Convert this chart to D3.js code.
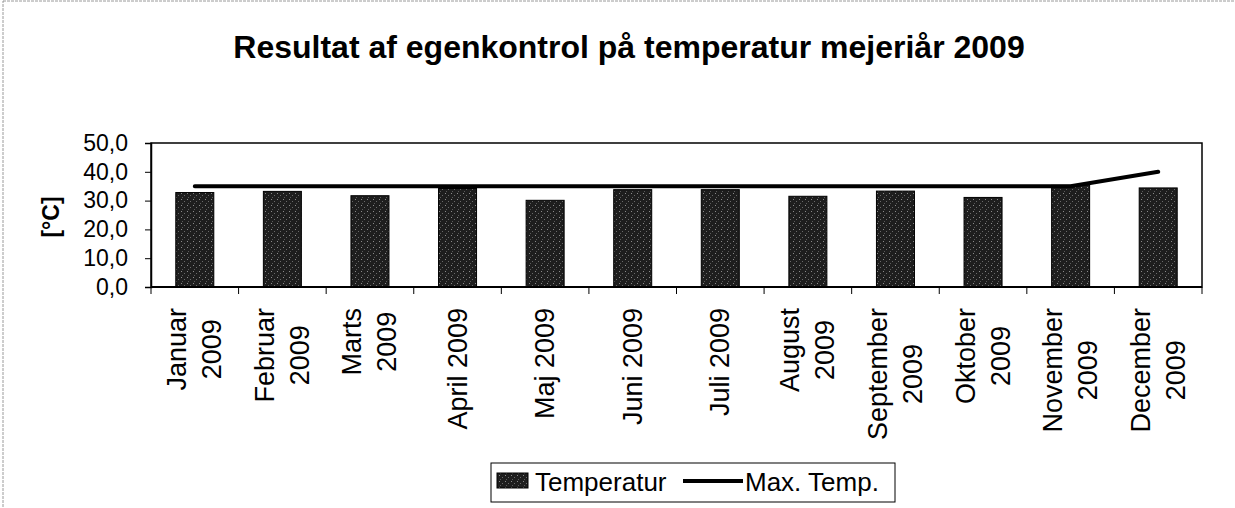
<!DOCTYPE html>
<html>
<head>
<meta charset="utf-8">
<script src="https://cdn.jsdelivr.net/npm/d3@7"></script>
<style>
  body { margin: 0; background: #fff; }
  svg { display: block; font-family: Arial, "Liberation Sans", Helvetica, sans-serif; }
</style>
</head>
<body>
<div id="chart"></div>
<script>
// data
var categories = ["Januar 2009", "Februar 2009", "Marts 2009", "April 2009", "Maj 2009", "Juni 2009",
                  "Juli 2009", "August 2009", "September 2009", "Oktober 2009", "November 2009", "December 2009"];
var tickLabels = [["Januar", "2009"], ["Februar", "2009"], ["Marts", "2009"], ["April 2009"], ["Maj 2009"], ["Juni 2009"],
                  ["Juli 2009"], ["August", "2009"], ["September", "2009"], ["Oktober", "2009"], ["November", "2009"], ["December", "2009"]];
var temperatur = [32.8, 33.2, 31.7, 34.2, 30.1, 33.8, 33.8, 31.5, 33.3, 31.1, 35.3, 34.4];
var maxTemp = [35, 35, 35, 35, 35, 35, 35, 35, 35, 35, 35, 40];
var yTicks = [0, 10, 20, 30, 40, 50];

var W = 1235, H = 508;
var plot = {left: 151, right: 1202, top: 143, bottom: 287};

var svg = d3.select("#chart").append("svg")
  .attr("width", W)
  .attr("height", H);

// speckled fill like the printed bars
var pat = svg.append("defs").append("pattern")
  .attr("id", "speckle")
  .attr("patternUnits", "userSpaceOnUse")
  .attr("width", 6).attr("height", 6);
pat.append("rect").attr("width", 6).attr("height", 6).attr("fill", "#1e1e1e");
pat.append("rect").attr("x", 1).attr("y", 1).attr("width", 1).attr("height", 1).attr("fill", "#8a8a8a");
pat.append("rect").attr("x", 4).attr("y", 3).attr("width", 1).attr("height", 1).attr("fill", "#6a6a6a");
pat.append("rect").attr("x", 2).attr("y", 5).attr("width", 1).attr("height", 1).attr("fill", "#5a5a5a");

// outer chart border (faint, as on the scan)
svg.append("rect")
  .attr("x", 3).attr("y", 1)
  .attr("width", W + 10).attr("height", H + 10)
  .attr("fill", "none")
  .attr("stroke", "#9a9a9a")
  .attr("stroke-width", 1)
  .attr("stroke-dasharray", "3,1");

svg.append("text")
  .attr("x", 629)
  .attr("y", 58)
  .attr("text-anchor", "middle")
  .attr("font-weight", "bold")
  .attr("font-size", 32)
  .text("Resultat af egenkontrol på temperatur mejeriår 2009");

var x = d3.scaleBand()
  .domain(categories)
  .range([plot.left, plot.right])
  .paddingInner(0.566)
  .paddingOuter(0.283);

var y = d3.scaleLinear()
  .domain([0, 50])
  .range([plot.bottom, plot.top]);

// plot area frame
svg.append("rect")
  .attr("x", plot.left).attr("y", plot.top)
  .attr("width", plot.right - plot.left)
  .attr("height", plot.bottom - plot.top)
  .attr("fill", "none")
  .attr("stroke", "#000")
  .attr("stroke-width", 1.5);

// bars
svg.selectAll(".bar")
  .data(temperatur)
  .enter()
  .append("rect")
  .attr("class", "bar")
  .attr("x", function(d, i) { return x(categories[i]); })
  .attr("y", function(d) { return y(d); })
  .attr("width", x.bandwidth())
  .attr("height", function(d) { return y(0) - y(d); })
  .attr("fill", "url(#speckle)")
  .attr("stroke", "#000")
  .attr("stroke-width", 1);

// max temp line
var line = d3.line()
  .x(function(d, i) { return x(categories[i]) + x.bandwidth() / 2; })
  .y(function(d) { return y(d); });

svg.append("path")
  .datum(maxTemp)
  .attr("d", line)
  .attr("fill", "none")
  .attr("stroke", "#000")
  .attr("stroke-width", 4)
  .attr("stroke-linecap", "round");

// y axis
var yAxis = svg.append("g")
  .attr("transform", "translate(" + plot.left + ",0)")
  .call(d3.axisLeft(y).tickValues(yTicks).tickSize(6).tickPadding(17)
    .tickFormat(function(d) { return d3.format(".1f")(d).replace(".", ","); }));
yAxis.select(".domain").attr("stroke-width", 1.5);
yAxis.selectAll("text")
  .attr("font-size", 23)
  .attr("fill", "#000")
  .attr("font-family", "Arial, 'Liberation Sans', sans-serif");

// x axis: ticks between categories
var step = x.step();
var boundaries = d3.range(categories.length + 1);
svg.append("g")
  .selectAll("line")
  .data(boundaries)
  .enter()
  .append("line")
  .attr("x1", function(d) { return plot.left + d * step; })
  .attr("x2", function(d) { return plot.left + d * step; })
  .attr("y1", plot.bottom)
  .attr("y2", plot.bottom + 7)
  .attr("stroke", "#000")
  .attr("stroke-width", 1);

svg.append("line")
  .attr("x1", plot.left).attr("x2", plot.right)
  .attr("y1", plot.bottom).attr("y2", plot.bottom)
  .attr("stroke", "#000")
  .attr("stroke-width", 2);

// rotated category labels, lines centred on each other
var labelTop = 308, lineH = 35, capH = 9;
var labels = svg.append("g")
  .selectAll("g")
  .data(tickLabels)
  .enter()
  .append("g")
  .attr("transform", function(d, i) {
    return "translate(" + (x(categories[i]) + x.bandwidth() / 2) + "," + labelTop + ") rotate(-90)";
  });

labels.each(function(lines) {
  var g = d3.select(this);
  var texts = g.selectAll("text")
    .data(lines)
    .enter()
    .append("text")
    .attr("font-size", 27)
    .attr("text-anchor", "middle")
    .attr("y", function(d, j) { return (j - (lines.length - 1) / 2) * lineH + capH; })
    .text(function(d) { return d; });
  var maxLen = 0;
  texts.each(function() { maxLen = Math.max(maxLen, this.getComputedTextLength()); });
  texts.attr("x", -maxLen / 2);
});

// y title
svg.append("text")
  .attr("transform", "translate(59,217) rotate(-90)")
  .attr("text-anchor", "middle")
  .attr("font-weight", "bold")
  .attr("font-size", 23)
  .text("[°C]");

// legend
var legend = svg.append("g");
legend.append("rect")
  .attr("x", 491).attr("y", 463)
  .attr("width", 404).attr("height", 39)
  .attr("fill", "#fff")
  .attr("stroke", "#000")
  .attr("stroke-width", 1);
legend.append("rect")
  .attr("x", 497).attr("y", 473)
  .attr("width", 31).attr("height", 15)
  .attr("fill", "url(#speckle)")
  .attr("stroke", "#000");
legend.append("text")
  .attr("x", 535).attr("y", 491)
  .attr("font-size", 26)
  .text("Temperatur");
legend.append("line")
  .attr("x1", 683).attr("x2", 743)
  .attr("y1", 481).attr("y2", 481)
  .attr("stroke", "#000")
  .attr("stroke-width", 4);
legend.append("text")
  .attr("x", 745).attr("y", 491)
  .attr("font-size", 26)
  .text("Max. Temp.");
</script>
</body>
</html>
